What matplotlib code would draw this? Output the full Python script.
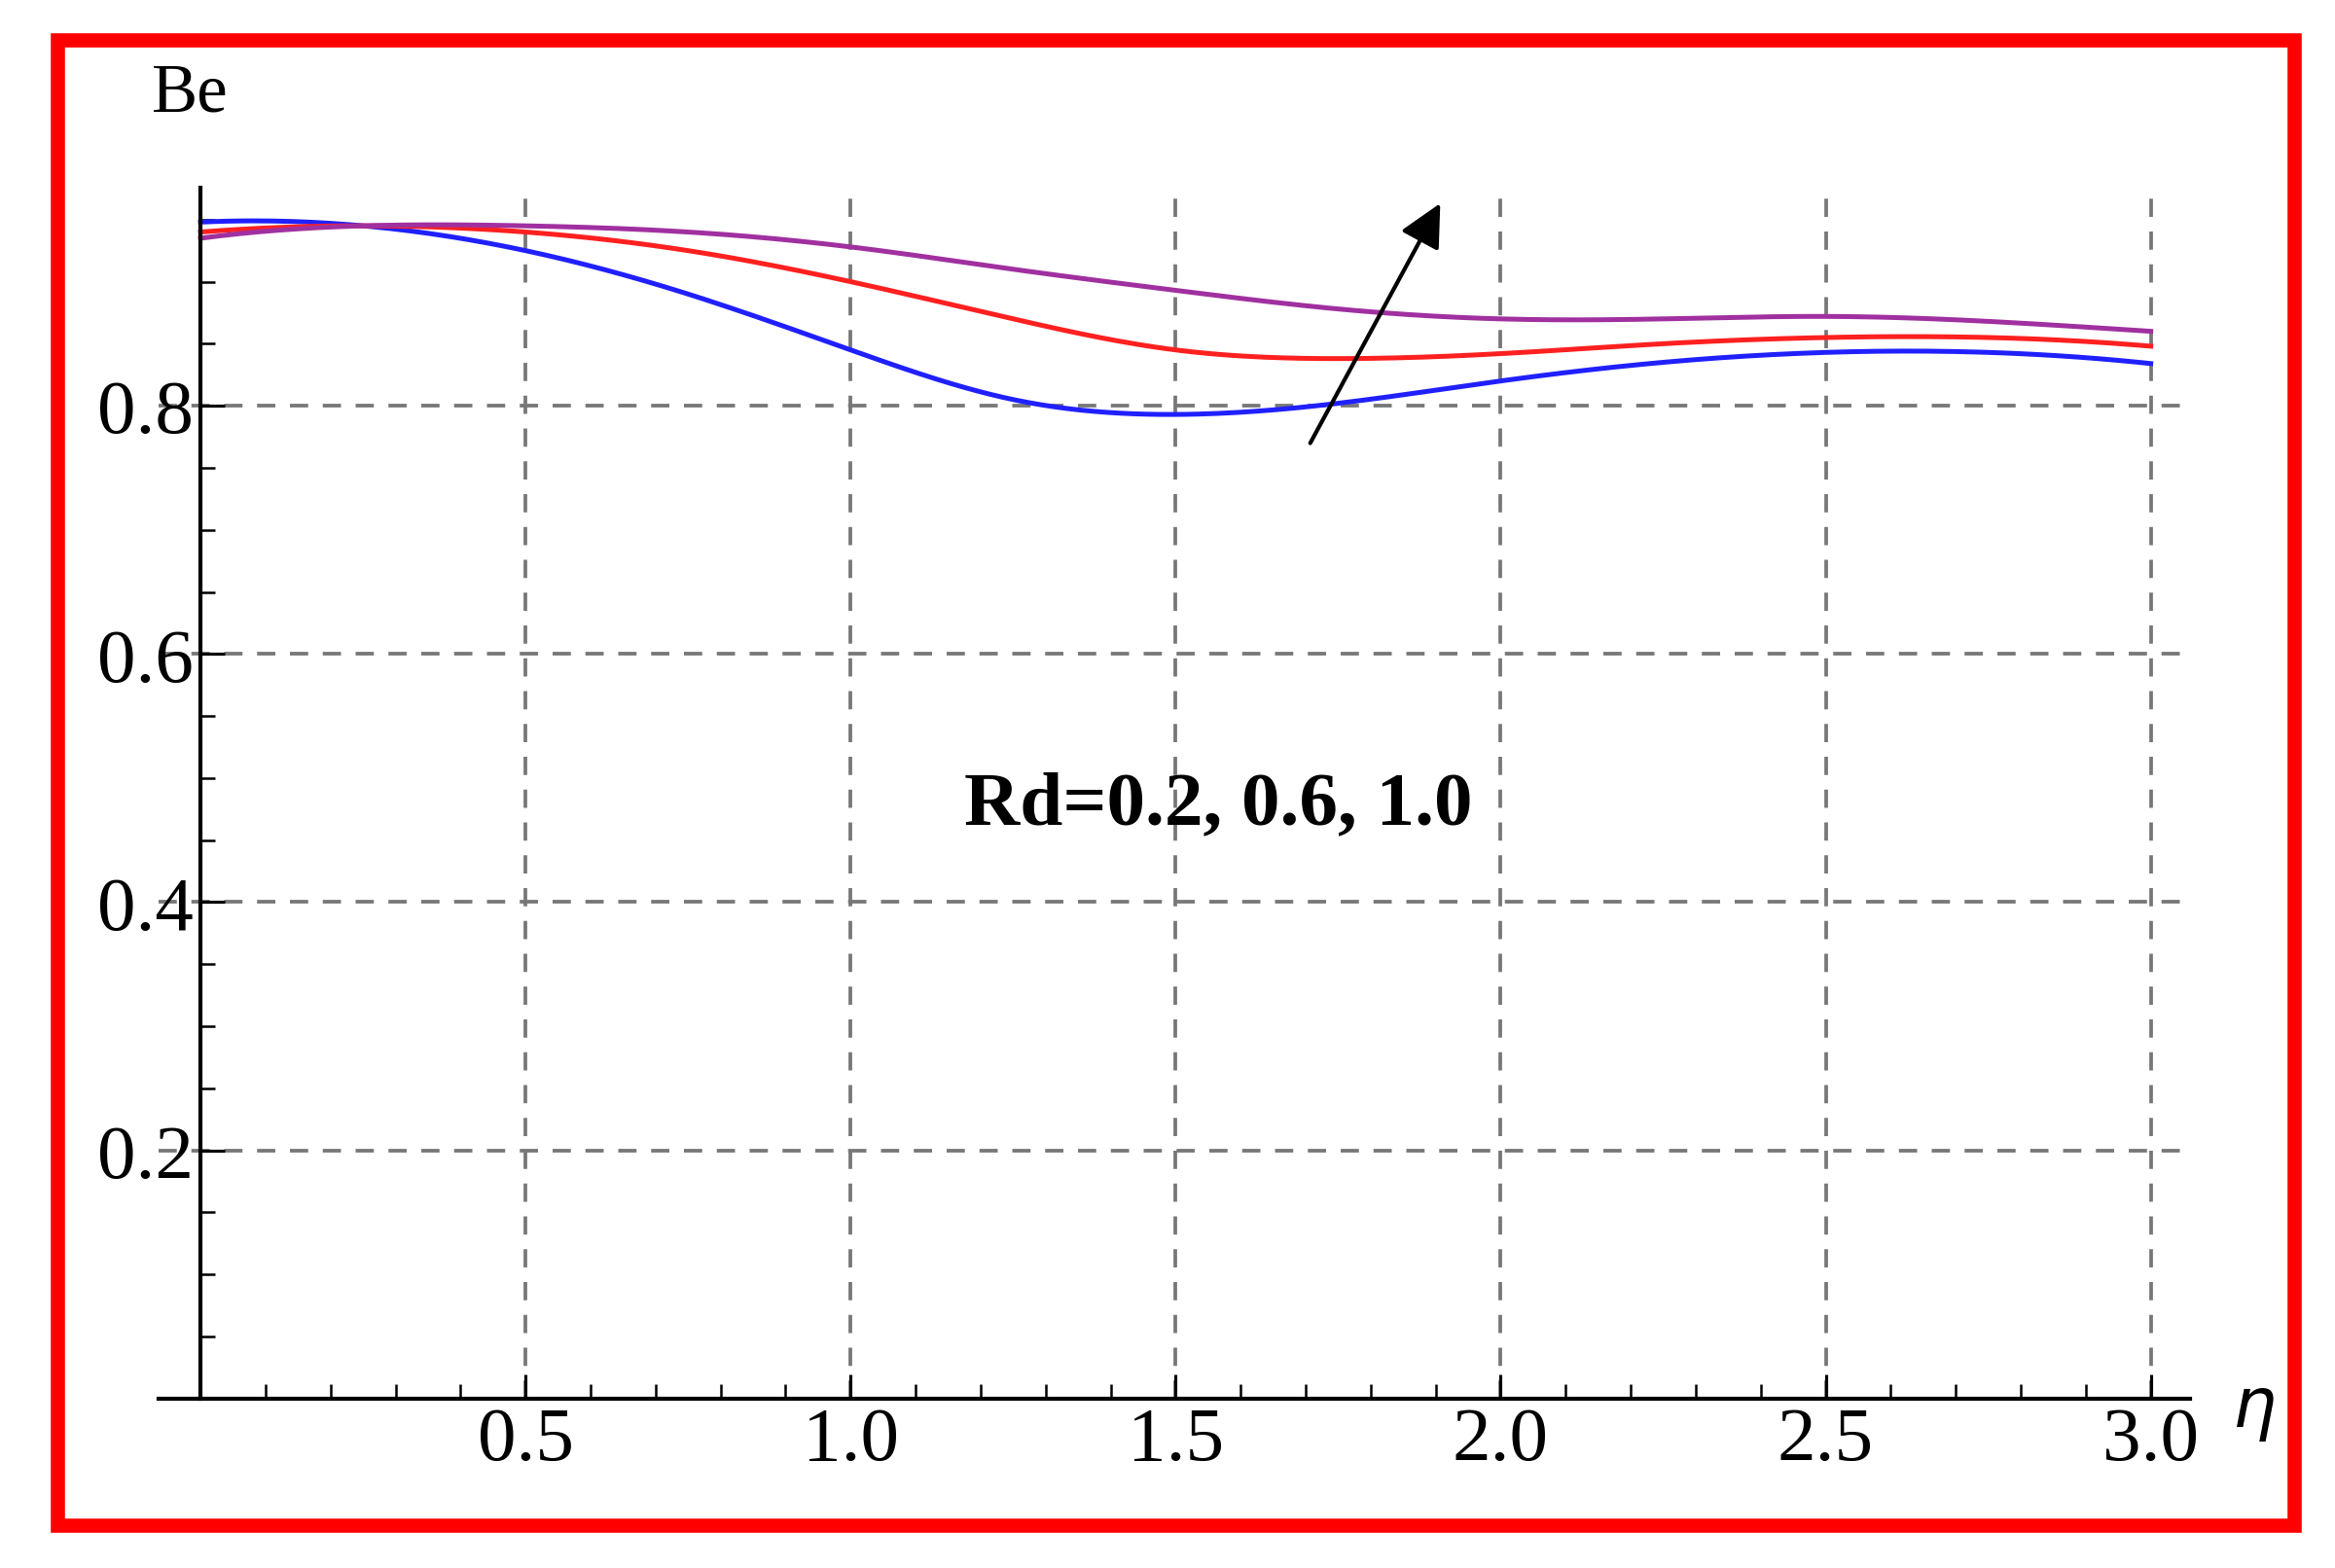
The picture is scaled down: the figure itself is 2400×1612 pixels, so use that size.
import numpy as np
import matplotlib.pyplot as plt
from matplotlib.patches import Rectangle
from matplotlib.ticker import MultipleLocator

plt.rcParams['font.family'] = ['Liberation Serif', 'DejaVu Serif']

eta = [0.0, 0.25, 0.5, 0.75, 1.0, 1.25, 1.5, 1.75, 2.0, 2.25, 2.5, 2.75, 3.0]
be_rd02 = [0.948, 0.945, 0.925, 0.89, 0.845, 0.805, 0.793, 0.802, 0.82, 0.835, 0.843, 0.843, 0.834]
be_rd06 = [0.94, 0.945, 0.94, 0.925, 0.90, 0.87, 0.845, 0.838, 0.842, 0.85, 0.855, 0.855, 0.848]
be_rd10 = [0.935, 0.945, 0.945, 0.94, 0.928, 0.91, 0.893, 0.878, 0.87, 0.87, 0.872, 0.868, 0.86]

fig = plt.figure(figsize=(16, 10.753), dpi=150)
ax = fig.add_axes([0.0678, 0.108, 0.870, 0.772])

xs = np.linspace(0, 3, 300)
try:
    from scipy.interpolate import CubicSpline
    sm = lambda y: CubicSpline(eta, y)(xs)
except ImportError:
    sm = lambda y: np.interp(xs, eta, y)

ax.plot(xs, sm(be_rd02), color='#2020ff', lw=2.4)
ax.plot(xs, sm(be_rd06), color='#ff2020', lw=2.4)
ax.plot(xs, sm(be_rd10), color='#a030a0', lw=2.4)

ax.set_xlim(-0.065, 3.06)
ax.set_ylim(0, 0.976)
ax.spines['left'].set_position(('data', 0))
ax.spines['top'].set_visible(False)
ax.spines['right'].set_visible(False)
for s in ('left', 'bottom'):
    ax.spines[s].set_linewidth(2)

ax.set_xticks([0.5, 1.0, 1.5, 2.0, 2.5, 3.0])
ax.set_yticks([0.2, 0.4, 0.6, 0.8])
ax.xaxis.set_minor_locator(MultipleLocator(0.1))
ax.yaxis.set_minor_locator(MultipleLocator(0.05))
ax.tick_params(which='major', direction='in', length=12, width=1.5, labelsize=38)
ax.tick_params(which='minor', direction='in', length=7, width=1.2)
ax.grid(True, which='major', ls=(0, (5, 4)), color='#777777', lw=1.8)

ax.annotate('', xy=(1.91, 0.966), xytext=(1.704, 0.767),
            arrowprops=dict(arrowstyle='-|>', color='black', lw=2, mutation_scale=45))
ax.text(1.565, 0.478, 'Rd=0.2, 0.6, 1.0', fontsize=38, fontweight='bold', ha='center', va='center')

fig.text(0.065, 0.94, 'Be', fontsize=34, ha='left', va='center')
fig.text(0.965, 0.10, r'$\eta$', fontsize=34, ha='center', va='center')

fig.patches.append(Rectangle((0.0245, 0.027), 0.958, 0.947, transform=fig.transFigure,
                             fill=False, edgecolor='red', lw=7))

fig.savefig('out.png')
